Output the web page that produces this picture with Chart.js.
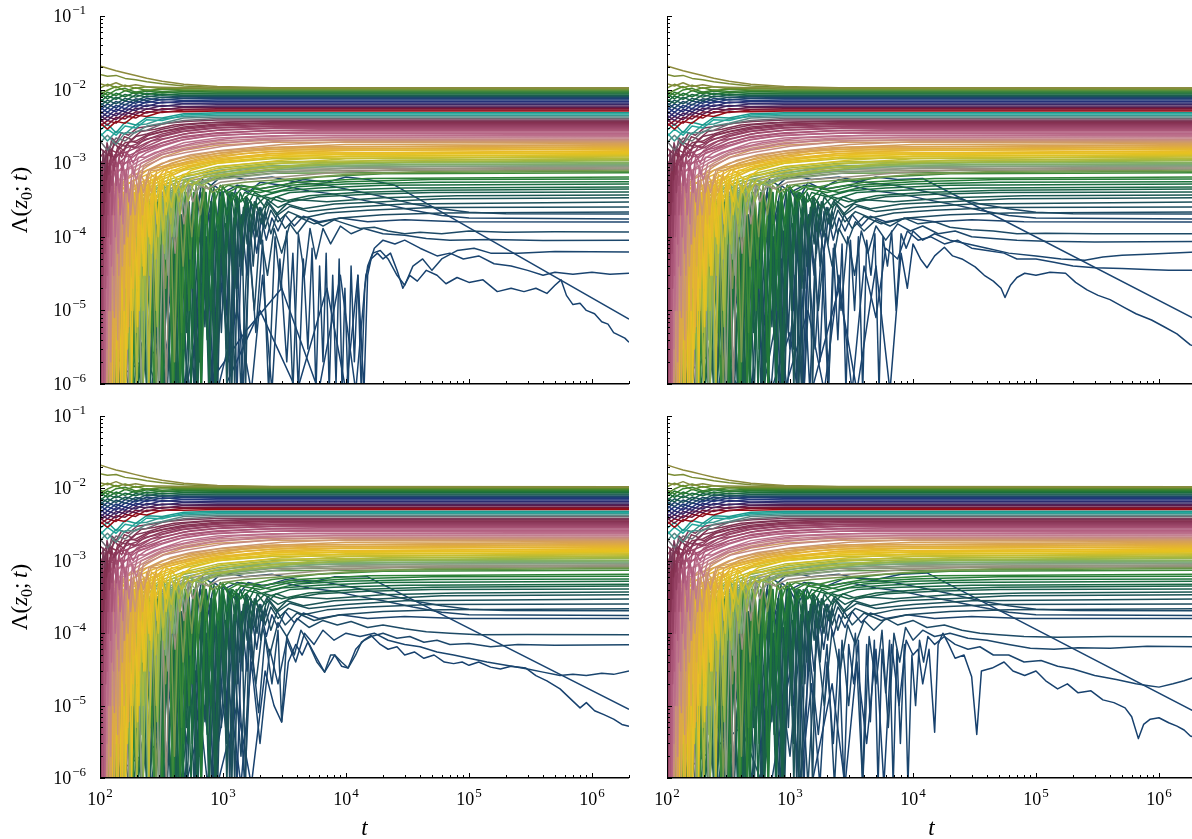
<!DOCTYPE html>
<html>
<head>
<meta charset="utf-8">
<title>Λ(z0; t)</title>
<script src="https://cdn.jsdelivr.net/npm/chart.js@4.4.1/dist/chart.umd.min.js"></script>
<style>
  html, body { margin: 0; padding: 0; background: #fff; width: 1192px; height: 839px; overflow: hidden; }
  .panel { position: absolute; }
  canvas { display: block; }
</style>
</head>
<body>
<div class="panel" style="left:0px;top:0px"><canvas id="c0" width="640" height="400"></canvas></div>
<div class="panel" style="left:640px;top:0px"><canvas id="c1" width="560" height="400"></canvas></div>
<div class="panel" style="left:0px;top:400px"><canvas id="c2" width="640" height="439"></canvas></div>
<div class="panel" style="left:640px;top:400px"><canvas id="c3" width="560" height="439"></canvas></div>
<script>
// ---------- axis decades ----------
const yDecades = [-6, -5, -4, -3, -2, -1];
const xDecades = [2, 3, 4, 5, 6];
const tMin = 100, tMax = 2000000;

// ---------- smooth band trajectories, sampled on a common time grid ----------
const tBand = [100, 115, 135, 160, 195, 240, 320, 480, 900, 2500, 2000000];

const oliveLines = [
  [21e-3, 19.5e-3, 18e-3, 16.8e-3, 15.5e-3, 14.3e-3, 13.0e-3, 11.8e-3, 11.0e-3, 10.6e-3, 10.5e-3],
  [16e-3, 15.2e-3, 15.6e-3, 14.2e-3, 13.6e-3, 12.8e-3, 12.0e-3, 11.2e-3, 10.7e-3, 10.5e-3, 10.4e-3]
];

const upperBand = [
  [12.0e-3, 11.2e-3, 12.4e-3, 11.0e-3, 11.6e-3, 10.9e-3, 10.8e-3, 10.6e-3, 10.5e-3, 10.5e-3, 10.5e-3],
  [10.5e-3, 11.8e-3, 10.6e-3, 11.5e-3, 10.4e-3, 10.9e-3, 10.3e-3, 10.4e-3, 10.2e-3, 10.2e-3, 10.2e-3],
  [8.6e-3, 9.8e-3, 11.0e-3, 9.6e-3, 10.6e-3, 9.7e-3, 10.2e-3, 9.9e-3, 9.9e-3, 9.9e-3, 9.9e-3],
  [9.5e-3, 8.4e-3, 9.9e-3, 10.4e-3, 9.2e-3, 9.9e-3, 9.4e-3, 9.7e-3, 9.6e-3, 9.6e-3, 9.6e-3],
  [7.8e-3, 9.2e-3, 8.3e-3, 9.7e-3, 8.8e-3, 9.6e-3, 9.0e-3, 9.4e-3, 9.3e-3, 9.3e-3, 9.3e-3],
  [8.8e-3, 7.5e-3, 8.9e-3, 8.0e-3, 9.3e-3, 8.6e-3, 9.2e-3, 8.9e-3, 9.0e-3, 9.0e-3, 9.0e-3],
  [6.8e-3, 8.2e-3, 7.4e-3, 8.6e-3, 7.9e-3, 8.9e-3, 8.4e-3, 8.8e-3, 8.7e-3, 8.7e-3, 8.7e-3],
  [7.4e-3, 6.5e-3, 7.9e-3, 7.0e-3, 8.5e-3, 7.9e-3, 8.6e-3, 8.3e-3, 8.4e-3, 8.4e-3, 8.4e-3],
  [6.0e-3, 7.2e-3, 6.4e-3, 7.6e-3, 7.0e-3, 8.2e-3, 7.8e-3, 8.2e-3, 8.1e-3, 8.1e-3, 8.1e-3],
  [6.6e-3, 5.6e-3, 6.9e-3, 6.2e-3, 7.5e-3, 7.1e-3, 7.9e-3, 7.7e-3, 7.8e-3, 7.8e-3, 7.8e-3],
  [5.2e-3, 6.4e-3, 5.6e-3, 7.0e-3, 6.5e-3, 7.6e-3, 7.2e-3, 7.6e-3, 7.5e-3, 7.5e-3, 7.5e-3],
  [5.8e-3, 4.9e-3, 6.1e-3, 5.5e-3, 6.9e-3, 6.6e-3, 7.4e-3, 7.1e-3, 7.2e-3, 7.2e-3, 7.2e-3],
  [4.6e-3, 5.6e-3, 5.0e-3, 6.3e-3, 5.8e-3, 6.9e-3, 6.6e-3, 7.0e-3, 6.9e-3, 6.9e-3, 6.9e-3],
  [5.1e-3, 4.3e-3, 5.4e-3, 5.0e-3, 6.2e-3, 5.9e-3, 6.8e-3, 6.5e-3, 6.6e-3, 6.6e-3, 6.6e-3],
  [4.0e-3, 4.9e-3, 4.4e-3, 5.5e-3, 5.2e-3, 6.2e-3, 5.9e-3, 6.4e-3, 6.3e-3, 6.3e-3, 6.3e-3],
  [4.5e-3, 3.8e-3, 4.8e-3, 4.5e-3, 5.6e-3, 5.4e-3, 6.1e-3, 5.9e-3, 6.0e-3, 6.0e-3, 6.0e-3],
  [3.6e-3, 4.3e-3, 3.9e-3, 4.9e-3, 4.6e-3, 5.5e-3, 5.3e-3, 5.8e-3, 5.75e-3, 5.75e-3, 5.75e-3],
  [3.9e-3, 3.3e-3, 4.2e-3, 4.0e-3, 5.0e-3, 4.8e-3, 5.5e-3, 5.4e-3, 5.5e-3, 5.5e-3, 5.5e-3],
  [3.2e-3, 3.8e-3, 3.5e-3, 4.4e-3, 4.1e-3, 5.0e-3, 4.9e-3, 5.3e-3, 5.3e-3, 5.3e-3, 5.3e-3],
  [3.5e-3, 2.9e-3, 3.7e-3, 3.5e-3, 4.5e-3, 4.3e-3, 5.0e-3, 5.0e-3, 5.1e-3, 5.1e-3, 5.1e-3]
];

const tealBand = [
  [2.8e-3, 3.4e-3, 2.6e-3, 3.6e-3, 3.3e-3, 4.2e-3, 4.1e-3, 4.7e-3, 4.85e-3, 4.85e-3, 4.85e-3],
  [2.3e-3, 2.9e-3, 2.4e-3, 3.2e-3, 3.0e-3, 3.9e-3, 3.8e-3, 4.5e-3, 4.65e-3, 4.65e-3, 4.65e-3],
  [2.6e-3, 2.0e-3, 2.7e-3, 2.5e-3, 3.3e-3, 3.4e-3, 4.0e-3, 4.3e-3, 4.45e-3, 4.45e-3, 4.45e-3],
  [1.9e-3, 2.4e-3, 1.8e-3, 2.6e-3, 2.6e-3, 3.2e-3, 3.5e-3, 4.1e-3, 4.25e-3, 4.25e-3, 4.25e-3],
  [2.0e-3, 1.5e-3, 2.2e-3, 2.0e-3, 2.7e-3, 2.8e-3, 3.4e-3, 3.8e-3, 4.05e-3, 4.05e-3, 4.05e-3]
];

const pinkBand = [
  [1.6e-3, 1.3e-3, 1.9e-3, 1.7e-3, 2.3e-3, 2.5e-3, 2.9e-3, 3.3e-3, 3.6e-3, 3.75e-3, 3.75e-3],
  [1.2e-3, 1.6e-3, 1.4e-3, 1.9e-3, 2.0e-3, 2.4e-3, 2.7e-3, 3.1e-3, 3.4e-3, 3.55e-3, 3.55e-3],
  [9e-4, 1.3e-3, 1.2e-3, 1.6e-3, 1.8e-3, 2.1e-3, 2.5e-3, 2.9e-3, 3.2e-3, 3.35e-3, 3.35e-3],
  [1.1e-3, 8e-4, 1.3e-3, 1.4e-3, 1.6e-3, 1.9e-3, 2.3e-3, 2.7e-3, 3.0e-3, 3.15e-3, 3.15e-3],
  [7e-4, 1.0e-3, 9e-4, 1.2e-3, 1.4e-3, 1.7e-3, 2.1e-3, 2.5e-3, 2.8e-3, 2.95e-3, 2.95e-3],
  [8e-4, 6e-4, 1.0e-3, 1.0e-3, 1.3e-3, 1.5e-3, 1.9e-3, 2.3e-3, 2.6e-3, 2.75e-3, 2.75e-3],
  [5e-4, 8e-4, 7e-4, 1.0e-3, 1.1e-3, 1.4e-3, 1.7e-3, 2.1e-3, 2.4e-3, 2.55e-3, 2.55e-3],
  [6e-4, 4e-4, 8e-4, 8e-4, 1.0e-3, 1.2e-3, 1.5e-3, 1.9e-3, 2.2e-3, 2.36e-3, 2.36e-3],
  [3e-4, 6e-4, 5e-4, 8e-4, 9e-4, 1.1e-3, 1.4e-3, 1.7e-3, 2.0e-3, 2.2e-3, 2.2e-3],
  [4e-4, 2e-4, 6e-4, 6e-4, 8e-4, 1.0e-3, 1.3e-3, 1.6e-3, 1.9e-3, 2.05e-3, 2.05e-3],
  [2e-4, 4e-4, 3e-4, 6e-4, 7e-4, 9e-4, 1.2e-3, 1.5e-3, 1.75e-3, 1.92e-3, 1.92e-3]
];

const yellowBand = [
  [3e-4, 5e-4, 4e-4, 6e-4, 7e-4, 8e-4, 1.0e-3, 1.2e-3, 1.45e-3, 1.65e-3, 1.8e-3],
  [4e-4, 3e-4, 5e-4, 5e-4, 6e-4, 8e-4, 9e-4, 1.1e-3, 1.35e-3, 1.55e-3, 1.69e-3],
  [2e-4, 4e-4, 3e-4, 5e-4, 6e-4, 7e-4, 8.5e-4, 1.0e-3, 1.25e-3, 1.45e-3, 1.58e-3],
  [3e-4, 2e-4, 4e-4, 4e-4, 5e-4, 6e-4, 8e-4, 9.5e-4, 1.15e-3, 1.35e-3, 1.48e-3],
  [1.5e-4, 3e-4, 2.5e-4, 4e-4, 4.5e-4, 5.5e-4, 7e-4, 9e-4, 1.1e-3, 1.28e-3, 1.40e-3],
  [2e-4, 1.5e-4, 3e-4, 3e-4, 4e-4, 5e-4, 6.5e-4, 8.5e-4, 1.05e-3, 1.2e-3, 1.32e-3],
  [1e-4, 2e-4, 2e-4, 3e-4, 3.5e-4, 4.5e-4, 6e-4, 8e-4, 1.0e-3, 1.15e-3, 1.25e-3],
  [1.5e-4, 1e-4, 2.5e-4, 2.5e-4, 3e-4, 4e-4, 5.5e-4, 7e-4, 9e-4, 1.05e-3, 1.17e-3],
  [8e-5, 1.5e-4, 1.5e-4, 2e-4, 3e-4, 3.5e-4, 5e-4, 6.5e-4, 8.5e-4, 1.0e-3, 1.11e-3]
];

const sageBand = [
  [1e-4, 2e-4, 1.5e-4, 2.5e-4, 3e-4, 4e-4, 5e-4, 6.5e-4, 8e-4, 9.3e-4, 9.9e-4],
  [1.5e-4, 1e-4, 2e-4, 2e-4, 2.5e-4, 3.5e-4, 4.5e-4, 6e-4, 7.5e-4, 8.8e-4, 9.35e-4],
  [8e-5, 1.5e-4, 1.2e-4, 2e-4, 2.2e-4, 3e-4, 4e-4, 5.5e-4, 7e-4, 8.3e-4, 8.85e-4],
  [1e-4, 7e-5, 1.5e-4, 1.5e-4, 2e-4, 2.8e-4, 3.8e-4, 5e-4, 6.5e-4, 7.8e-4, 8.35e-4],
  [6e-5, 1e-4, 9e-5, 1.3e-4, 1.8e-4, 2.5e-4, 3.5e-4, 4.8e-4, 6.2e-4, 7.3e-4, 7.8e-4]
];

// ---------- fluctuating trajectories, as [t, Λ] pairs ----------
const mauveLines = [
  [[100,1.2e-3],[103,4e-4],[106,1.5e-3],[110,8e-4],[114,1.9e-3],[119,1.4e-3],[125,2.2e-3],[135,1.9e-3],[150,2.6e-3],[170,2.4e-3],[200,3.0e-3],[260,3.2e-3],[350,3.5e-3],[500,3.7e-3],[900,3.85e-3],[2e6,3.85e-3]],
  [[100,6e-4],[102,1e-4],[104,1e-3],[107,2e-4],[110,1.3e-3],[113,6e-4],[117,1.6e-3],[122,1.2e-3],[130,1.9e-3],[142,1.6e-3],[158,2.3e-3],[180,2.1e-3],[215,2.7e-3],[280,2.9e-3],[400,3.3e-3],[700,3.55e-3],[1500,3.65e-3],[2e6,3.65e-3]],
  [[100,3e-4],[101.5,2e-5],[103,8e-4],[105.5,5e-5],[108,1.1e-3],[111,3e-4],[114,1.3e-3],[118,7e-4],[123,1.5e-3],[130,1.1e-3],[140,1.7e-3],[155,1.5e-3],[175,2.0e-3],[200,1.9e-3],[250,2.4e-3],[330,2.7e-3],[500,3.0e-3],[900,3.3e-3],[2000,3.45e-3],[2e6,3.45e-3]],
  [[100,1.5e-4],[102,8e-7],[104,6e-4],[106,3e-5],[109,9e-4],[112,1e-4],[115,1.1e-3],[119,4e-4],[124,1.3e-3],[130,8e-4],[138,1.5e-3],[150,1.2e-3],[165,1.8e-3],[190,1.6e-3],[230,2.1e-3],[300,2.3e-3],[450,2.7e-3],[800,3.0e-3],[2000,3.2e-3],[5000,3.25e-3],[2e6,3.25e-3]],
  [[100,8e-5],[101,8e-7],[103,4e-4],[105,1e-5],[107,7e-4],[110,6e-5],[113,9e-4],[116,2e-4],[120,1.1e-3],[125,5e-4],[131,1.3e-3],[138,9e-4],[147,1.5e-3],[160,1.2e-3],[180,1.7e-3],[210,1.6e-3],[260,2.0e-3],[350,2.2e-3],[550,2.6e-3],[1000,2.85e-3],[3000,3.05e-3],[2e6,3.05e-3]],
  [[100,5e-4],[102,6e-6],[104,3e-4],[106,8e-7],[108,5e-4],[111,2e-5],[114,8e-4],[117,1e-4],[121,9e-4],[125,2e-4],[130,1.1e-3],[136,5e-4],[143,1.2e-3],[152,8e-4],[163,1.4e-3],[178,1.2e-3],[200,1.5e-3],[240,1.6e-3],[320,1.9e-3],[450,2.2e-3],[800,2.5e-3],[2000,2.75e-3],[6000,2.85e-3],[2e6,2.85e-3]],
  [[100,3e-5],[102,5e-4],[104,2e-6],[106,4e-4],[109,8e-7],[112,6e-4],[115,3e-5],[118,7e-4],[122,8e-5],[126,9e-4],[131,2e-4],[137,1e-3],[144,4e-4],[152,1.1e-3],[161,6e-4],[172,1.3e-3],[186,1e-3],[205,1.4e-3],[240,1.5e-3],[300,1.7e-3],[420,2.0e-3],[700,2.3e-3],[1500,2.5e-3],[5000,2.65e-3],[2e6,2.65e-3]],
  [[100,2e-4],[101.5,8e-7],[103,2e-4],[105,4e-6],[107.5,3e-4],[110,8e-7],[113,5e-4],[116,1e-5],[120,6e-4],[124,4e-5],[128,7e-4],[133,1e-4],[139,8e-4],[146,2e-4],[154,9e-4],[163,4e-4],[174,1.1e-3],[188,7e-4],[205,1.2e-3],[230,1.2e-3],[280,1.4e-3],[380,1.6e-3],[600,1.9e-3],[1200,2.2e-3],[4000,2.4e-3],[2e6,2.45e-3]],
  [[100,1e-5],[102,3e-4],[104,8e-7],[106,2e-4],[108.5,8e-7],[111,3e-4],[114,3e-6],[117,4e-4],[121,1e-5],[125,5e-4],[129,3e-5],[134,6e-4],[140,6e-5],[147,7e-4],[154,1.5e-4],[162,8e-4],[172,3e-4],[184,9e-4],[198,6e-4],[215,1.0e-3],[250,1.1e-3],[310,1.3e-3],[450,1.5e-3],[800,1.8e-3],[2000,2.1e-3],[8000,2.25e-3],[2e6,2.28e-3]],
  [[100,4e-4],[103,2e-5],[105,3e-4],[108,1e-6],[111,2e-4],[114,8e-7],[118,3e-4],[122,2e-6],[126,4e-4],[131,8e-6],[136,5e-4],[142,3e-5],[149,6e-4],[157,8e-5],[166,7e-4],[177,2e-4],[190,8e-4],[205,4e-4],[225,9e-4],[260,1.0e-3],[330,1.2e-3],[500,1.4e-3],[1000,1.7e-3],[3000,2.0e-3],[1e4,2.1e-3],[2e6,2.12e-3]],
  [[100,2e-5],[103,3e-4],[106,8e-7],[109,2e-4],[112,5e-6],[115,3e-4],[119,8e-7],[123,3e-4],[128,1e-5],[133,4e-4],[139,4e-6],[145,5e-4],[152,4e-5],[160,5e-4],[169,1e-4],[180,6e-4],[193,2e-4],[208,7e-4],[226,4e-4],[250,8e-4],[290,9e-4],[370,1.1e-3],[550,1.3e-3],[1000,1.5e-3],[3000,1.8e-3],[1e4,1.95e-3],[2e6,1.98e-3]]
];

const yellowLines = [
  [[100,6e-4],[102,8e-7],[105,2e-4],[108,3e-6],[111,3e-4],[115,2e-5],[119,4e-4],[123,8e-7],[128,4e-4],[133,3e-5],[139,5e-4],[145,1e-5],[152,5e-4],[160,8e-5],[168,6e-4],[177,2e-4],[188,6e-4],[200,3e-4],[215,7e-4],[235,5e-4],[260,8e-4],[300,8e-4],[380,1.0e-3],[550,1.2e-3],[1000,1.4e-3],[3000,1.65e-3],[1e4,1.8e-3],[2e6,1.85e-3]],
  [[100,3e-5],[104,1e-4],[107,8e-7],[110,2e-4],[113,2e-6],[117,3e-4],[121,6e-6],[126,3e-4],[131,8e-7],[137,4e-4],[143,3e-6],[150,4e-4],[157,1e-5],[165,5e-4],[174,4e-5],[184,5e-4],[195,1e-4],[208,6e-4],[222,2e-4],[240,7e-4],[262,4e-4],[290,8e-4],[340,9e-4],[450,1.0e-3],[700,1.2e-3],[1500,1.45e-3],[5000,1.65e-3],[2e6,1.74e-3]],
  [[100,8e-5],[103,6e-4],[106,2e-5],[109,3e-4],[112,8e-7],[116,2e-4],[120,1e-5],[124,3e-4],[129,4e-6],[135,4e-4],[141,8e-7],[148,3e-4],[155,2e-5],[163,4e-4],[171,6e-6],[180,5e-4],[190,5e-5],[201,5e-4],[213,1.5e-4],[227,6e-4],[243,3e-4],[262,7e-4],[290,6e-4],[330,8e-4],[420,9e-4],[650,1.1e-3],[1500,1.35e-3],[5000,1.55e-3],[2e6,1.63e-3]],
  [[100,2e-4],[105,4e-4],[108,8e-7],[112,1e-4],[116,3e-5],[121,3e-4],[126,8e-7],[132,3e-4],[138,1e-5],[145,3e-4],[152,8e-7],[160,4e-4],[168,5e-6],[177,4e-4],[186,2e-5],[196,5e-4],[207,3e-5],[219,5e-4],[232,1e-4],[247,6e-4],[265,2e-4],[285,7e-4],[310,4e-4],[345,8e-4],[400,7e-4],[520,9e-4],[900,1.1e-3],[2500,1.35e-3],[1e4,1.5e-3],[2e6,1.53e-3]],
  [[100,1e-5],[104,2e-4],[107,4e-6],[111,2e-4],[115,8e-7],[119,2e-4],[124,1e-5],[129,3e-4],[134,3e-6],[140,3e-4],[147,5e-5],[154,4e-4],[162,8e-7],[170,4e-4],[179,1e-5],[189,4e-4],[199,2e-5],[210,5e-4],[222,6e-5],[235,5e-4],[250,1e-4],[267,6e-4],[287,3e-4],[310,7e-4],[340,5e-4],[380,8e-4],[460,8e-4],[650,1.0e-3],[1500,1.2e-3],[5000,1.38e-3],[2e6,1.44e-3]],
  [[100,5e-4],[103,1e-5],[107,3e-4],[111,6e-6],[116,2e-4],[121,8e-7],[127,3e-4],[133,4e-5],[140,4e-4],[147,8e-7],[155,3e-4],[163,2e-5],[172,4e-4],[181,8e-7],[191,4e-4],[202,6e-6],[214,5e-4],[227,3e-5],[241,5e-4],[256,8e-5],[273,6e-4],[292,1.5e-4],[315,6e-4],[345,3e-4],[380,7e-4],[430,6e-4],[550,8e-4],[900,1.0e-3],[2500,1.2e-3],[1e4,1.33e-3],[2e6,1.36e-3]],
  [[100,1e-4],[104,8e-7],[108,2e-4],[113,2e-5],[118,3e-4],[123,3e-6],[129,3e-4],[136,8e-7],[143,3e-4],[151,1e-5],[159,4e-4],[167,3e-6],[176,3e-4],[186,2e-5],[197,4e-4],[208,1e-5],[220,4e-4],[233,3e-5],[247,5e-4],[262,6e-5],[279,5e-4],[298,1e-4],[320,6e-4],[345,2e-4],[375,6e-4],[410,4e-4],[470,7e-4],[600,7e-4],[1000,9e-4],[3000,1.1e-3],[1e4,1.25e-3],[2e6,1.28e-3]],
  [[100,3e-4],[105,5e-6],[110,2e-4],[115,8e-7],[121,2e-4],[127,1e-5],[134,3e-4],[141,4e-6],[149,3e-4],[157,8e-7],[166,3e-4],[175,2e-5],[185,4e-4],[196,5e-6],[208,4e-4],[221,4e-5],[235,4e-4],[250,8e-7],[266,5e-4],[284,5e-5],[304,5e-4],[326,1.2e-4],[350,5e-4],[380,2.5e-4],[415,6e-4],[460,4e-4],[540,6e-4],[700,7e-4],[1200,8.5e-4],[3000,1.0e-3],[1e4,1.15e-3],[2e6,1.21e-3]],
  [[100,2e-6],[106,1e-4],[112,8e-7],[118,2e-4],[125,1e-5],[132,2e-4],[140,8e-7],[148,3e-4],[157,3e-6],[166,3e-4],[176,4e-5],[187,3e-4],[199,8e-7],[211,4e-4],[224,1e-5],[238,4e-4],[253,3e-5],[269,4e-4],[287,1e-5],[306,5e-4],[327,8e-5],[350,5e-4],[376,1.5e-4],[405,5e-4],[440,3e-4],[480,6e-4],[560,5e-4],[700,6.5e-4],[1000,7e-4],[2000,8.5e-4],[6000,1.0e-3],[2e4,1.1e-3],[2e6,1.14e-3]],
  [[100,1e-4],[107,8e-7],[114,1.5e-4],[121,3e-6],[129,2e-4],[137,8e-7],[146,2e-4],[155,2e-5],[165,3e-4],[175,1e-6],[186,3e-4],[198,2e-5],[211,3e-4],[225,8e-7],[240,4e-4],[256,3e-5],[273,4e-4],[292,6e-6],[312,4e-4],[334,6e-5],[358,5e-4],[384,1e-4],[413,5e-4],[445,2e-4],[480,5e-4],[520,3e-4],[580,5.5e-4],[680,5e-4],[900,6.5e-4],[1500,7.5e-4],[4000,9e-4],[1.5e4,1.02e-3],[2e6,1.08e-3]]
];

const greenLines = [
  [[100,3e-4],[110,8e-7],[120,1e-4],[131,3e-6],[143,2e-4],[156,8e-7],[170,3e-4],[185,1e-5],[201,3e-4],[219,4e-6],[238,4e-4],[259,3e-5],[282,4e-4],[307,8e-5],[334,5e-4],[364,2e-4],[396,5e-4],[440,4e-4],[500,6e-4],[600,5.5e-4],[750,7e-4],[1000,7.5e-4],[1500,8.5e-4],[3000,9e-4],[8000,9.8e-4],[3e4,1.01e-3],[2e6,1.02e-3]],
  [[100,1e-4],[108,2e-6],[117,1.5e-4],[127,8e-7],[138,2e-4],[150,5e-6],[163,2e-4],[177,8e-7],[192,3e-4],[208,2e-5],[226,3e-4],[245,8e-7],[266,4e-4],[289,1e-5],[314,4e-4],[341,5e-5],[370,5e-4],[402,1e-4],[436,5e-4],[475,3e-4],[520,6e-4],[620,5e-4],[800,6.5e-4],[1200,7e-4],[2500,8e-4],[7000,9e-4],[3e4,9.5e-4],[2e6,9.6e-4]],
  [[100,8e-7],[112,1e-4],[124,3e-6],[137,2e-4],[151,8e-7],[166,2e-4],[182,3e-5],[199,3e-4],[217,8e-7],[236,3e-4],[257,1e-5],[279,4e-4],[303,8e-7],[329,4e-4],[357,3e-5],[387,4e-4],[420,1e-4],[456,5e-4],[495,2e-4],[540,5e-4],[600,4e-4],[700,5.5e-4],[900,6e-4],[1400,6.5e-4],[3000,7.5e-4],[1e4,8.6e-4],[5e4,9e-4],[2e6,9.1e-4]],
  [[100,5e-5],[113,8e-7],[126,1e-4],[140,8e-6],[155,2e-4],[171,8e-7],[188,2e-4],[206,2e-5],[225,3e-4],[246,2e-6],[268,3e-4],[292,4e-5],[318,4e-4],[346,8e-7],[376,4e-4],[408,6e-5],[443,4e-4],[481,1.5e-4],[522,5e-4],[570,3e-4],[640,5e-4],[750,4.5e-4],[950,5.5e-4],[1500,6e-4],[3000,6.5e-4],[8000,7.5e-4],[3e4,8.3e-4],[2e6,8.6e-4]],
  [[100,8e-7],[115,5e-5],[130,8e-7],[146,1.5e-4],[163,4e-6],[181,2e-4],[200,8e-7],[220,2e-4],[241,1e-5],[263,3e-4],[287,8e-7],[313,3e-4],[341,2e-5],[371,4e-4],[403,2e-6],[437,4e-4],[474,4e-5],[514,4e-4],[557,1e-4],[604,5e-4],[655,2e-4],[720,5e-4],[820,4e-4],[1000,5e-4],[1500,5.5e-4],[3000,6e-4],[1e4,7e-4],[5e4,7.8e-4],[2e6,8.1e-4]],
  [[100,2e-4],[120,8e-7],[135,1e-4],[151,5e-6],[168,2e-4],[186,8e-7],[206,2e-4],[227,1e-5],[250,3e-4],[274,8e-7],[300,3e-4],[328,3e-5],[358,3e-4],[390,8e-7],[424,4e-4],[460,5e-6],[499,4e-4],[540,5e-5],[585,4e-4],[633,1e-4],[685,5e-4],[740,2e-4],[800,5e-4],[900,4e-4],[1100,5e-4],[1500,4.5e-4],[2500,5.5e-4],[6000,6.5e-4],[2e4,7.2e-4],[2e6,7.4e-4]],
  [[100,2e-4],[111,8e-7],[125,1e-4],[140,8e-7],[157,2e-4],[175,2e-6],[195,2e-4],[216,8e-7],[239,3e-4],[263,1e-5],[289,3e-4],[317,8e-7],[347,3e-4],[379,2e-5],[413,4e-4],[449,8e-7],[488,4e-4],[530,1e-5],[575,4e-4],[623,6e-5],[675,4e-4],[730,1.5e-4],[790,5e-4],[860,3e-4],[950,5e-4],[1100,4e-4],[1400,5e-4],[2000,4.5e-4],[4000,5.5e-4],[1.5e4,6.2e-4],[2e6,6.5e-4]],
  [[100,5e-5],[114,8e-7],[129,1e-4],[145,3e-6],[163,2e-4],[182,8e-7],[203,2e-4],[225,4e-6],[249,3e-4],[275,8e-7],[303,3e-4],[333,1e-5],[365,3e-4],[399,8e-7],[436,4e-4],[475,3e-6],[517,4e-4],[562,2e-5],[610,4e-4],[662,8e-7],[718,4e-4],[778,5e-5],[843,4e-4],[913,1.5e-4],[990,5e-4],[1150,3e-4],[1400,4.5e-4],[2000,4e-4],[3500,5e-4],[1e4,5.6e-4],[5e4,6e-4],[2e6,6.1e-4]],
  [[100,1e-5],[117,1e-4],[134,8e-7],[152,1e-4],[172,2e-6],[193,2e-4],[216,8e-7],[241,2e-4],[268,3e-5],[297,3e-4],[328,8e-7],[361,3e-4],[396,4e-6],[434,3e-4],[474,8e-7],[517,4e-4],[563,2e-5],[612,4e-4],[664,8e-7],[720,4e-4],[780,3e-5],[845,4e-4],[915,1e-4],[990,4e-4],[1080,2e-4],[1200,4e-4],[1400,3e-4],[1800,4.5e-4],[2500,4e-4],[4000,4.8e-4],[1e4,5.2e-4],[5e4,5.5e-4],[2e6,5.6e-4]],
  [[100,1e-4],[120,8e-7],[140,1e-4],[160,1e-6],[182,1.5e-4],[205,8e-7],[230,2e-4],[257,5e-6],[286,2e-4],[318,8e-7],[352,3e-4],[388,1e-5],[427,3e-4],[469,8e-7],[514,3e-4],[562,3e-6],[614,4e-4],[669,8e-7],[728,4e-4],[791,1e-5],[858,4e-4],[930,5e-5],[1007,4e-4],[1090,1.2e-4],[1180,4e-4],[1300,2.5e-4],[1500,4e-4],[2000,3.5e-4],[3000,4.2e-4],[6000,4.6e-4],[2e4,5e-4],[2e6,5.2e-4]],
  [[100,8e-7],[122,5e-5],[144,8e-7],[167,1e-4],[191,3e-6],[217,1.5e-4],[245,8e-7],[275,2e-4],[307,2e-6],[341,2e-4],[377,8e-7],[416,3e-4],[458,2e-5],[502,3e-4],[550,8e-7],[601,3e-4],[655,4e-6],[713,4e-4],[775,8e-7],[842,3e-4],[913,2e-5],[990,4e-4],[1070,6e-5],[1160,4e-4],[1260,1.5e-4],[1380,4e-4],[1550,2.5e-4],[1800,4e-4],[2300,3.2e-4],[3500,4e-4],[8000,4.3e-4],[3e4,4.6e-4],[2e6,4.75e-4]],
  [[100,5e-5],[125,8e-7],[150,8e-5],[175,8e-7],[200,1.2e-4],[227,2e-6],[256,1.5e-4],[287,8e-7],[320,2e-4],[355,1e-5],[392,2e-4],[432,8e-7],[475,3e-4],[520,3e-6],[568,3e-4],[620,8e-7],[675,3e-4],[733,1e-5],[795,3e-4],[862,8e-7],[933,4e-4],[1010,3e-5],[1095,4e-4],[1185,8e-5],[1280,4e-4],[1400,1.5e-4],[1550,3.5e-4],[1800,2.5e-4],[2200,3.5e-4],[3000,3e-4],[5000,3.6e-4],[1.2e4,4e-4],[5e4,4.3e-4],[2e6,4.47e-4]],
  [[100,1e-5],[130,8e-7],[160,6e-5],[190,8e-7],[222,1e-4],[256,8e-7],[292,1.5e-4],[331,3e-6],[372,2e-4],[416,8e-7],[463,2e-4],[512,1e-5],[565,3e-4],[621,8e-7],[680,3e-4],[743,4e-6],[810,3e-4],[880,8e-7],[955,3e-4],[1035,2e-5],[1120,4e-4],[1210,5e-5],[1310,3.5e-4],[1420,1e-4],[1550,3.5e-4],[1700,1.8e-4],[1900,3.5e-4],[2200,2.5e-4],[2700,3.5e-4],[3500,3e-4],[6000,3.5e-4],[1.5e4,3.8e-4],[5e4,4e-4],[2e6,4.07e-4]],
  [[100,8e-7],[135,4e-5],[170,8e-7],[205,8e-5],[240,8e-7],[278,1.2e-4],[318,2e-6],[360,1.5e-4],[405,8e-7],[453,2e-4],[503,5e-6],[557,2e-4],[614,8e-7],[674,3e-4],[738,2e-5],[805,3e-4],[876,8e-7],[951,3e-4],[1030,1e-5],[1115,3.5e-4],[1205,3e-5],[1300,3.5e-4],[1405,8e-5],[1520,3.5e-4],[1650,1.2e-4],[1800,3e-4],[2000,2e-4],[2300,3.2e-4],[2800,2.5e-4],[3800,3.2e-4],[7000,3e-4],[2e4,3.4e-4],[8e4,3.6e-4],[2e6,3.7e-4]],
  [[100,3e-5],[140,8e-7],[180,5e-5],[220,8e-7],[262,1e-4],[306,8e-7],[353,1.2e-4],[403,3e-6],[456,1.5e-4],[512,8e-7],[571,2e-4],[633,1e-5],[698,2.5e-4],[766,8e-7],[838,2.5e-4],[913,3e-6],[992,3e-4],[1075,8e-7],[1160,3e-4],[1250,2e-5],[1350,3e-4],[1460,5e-5],[1580,3e-4],[1710,1e-4],[1850,3e-4],[2050,1.5e-4],[2300,3e-4],[2700,2e-4],[3300,2.8e-4],[4500,2.4e-4],[8000,2.8e-4],[2e4,3e-4],[6e4,3.3e-4],[2e6,3.4e-4]],
  [[100,1e-5],[150,8e-7],[200,3e-5],[250,8e-7],[300,6e-5],[352,8e-7],[406,1e-4],[462,2e-6],[520,1.2e-4],[582,8e-7],[646,1.5e-4],[713,6e-6],[783,2e-4],[856,8e-7],[932,2e-4],[1011,2e-5],[1093,2.5e-4],[1180,8e-7],[1270,2.5e-4],[1365,4e-5],[1465,2.5e-4],[1570,8e-5],[1690,3e-4],[1820,1.2e-4],[1970,2.5e-4],[2150,1.5e-4],[2400,2.8e-4],[2800,2e-4],[3500,2.6e-4],[5000,2.2e-4],[1e4,2.5e-4],[3e4,2.8e-4],[2e6,2.96e-4]],
  [[100,8e-7],[160,2e-5],[220,8e-7],[280,5e-5],[342,8e-7],[405,8e-5],[470,2e-6],[537,1e-4],[606,8e-7],[677,1.2e-4],[750,1e-5],[826,1.5e-4],[905,8e-7],[986,2e-4],[1070,3e-6],[1156,2e-4],[1245,8e-7],[1337,2.2e-4],[1433,3e-5],[1535,2.5e-4],[1640,6e-5],[1760,2.5e-4],[1890,1e-4],[2030,2.5e-4],[2200,1.3e-4],[2450,2.3e-4],[2800,1.6e-4],[3400,2.2e-4],[4500,1.8e-4],[7000,2.1e-4],[1.5e4,2.3e-4],[5e4,2.5e-4],[2e6,2.54e-4]],
  [[100,2e-6],[170,8e-7],[250,2e-5],[330,8e-7],[410,5e-5],[490,8e-7],[570,8e-5],[650,2e-6],[730,1e-4],[810,8e-7],[890,1.2e-4],[970,5e-6],[1050,1.5e-4],[1135,8e-7],[1225,1.8e-4],[1320,2e-5],[1420,2e-4],[1525,8e-7],[1640,2e-4],[1760,4e-5],[1890,2.2e-4],[2030,8e-5],[2200,2.2e-4],[2450,1.1e-4],[2750,2e-4],[3200,1.3e-4],[4000,1.9e-4],[5500,1.5e-4],[9000,1.8e-4],[2e4,2e-4],[6e4,2.1e-4],[2e6,2.17e-4]],
  [[100,2e-4],[120,8e-7],[140,2e-4],[165,3e-6],[190,3e-4],[220,8e-7],[255,3e-4],[290,2e-5],[330,4e-4],[375,8e-7],[420,4e-4],[470,5e-5],[530,5e-4],[600,2e-4],[680,6e-4],[800,5e-4],[1000,7e-4],[1500,6e-4],[2500,6.5e-4],[4000,5.5e-4],[7000,5e-4],[1.2e4,4.2e-4],[2e4,3.5e-4],[3.5e4,2.8e-4],[6e4,2.4e-4],[1e5,2.15e-4],[2e5,2.06e-4],[2e6,2.04e-4]],
  [[100,1e-4],[125,8e-7],[150,1.5e-4],[180,2e-6],[212,2e-4],[250,8e-7],[290,3e-4],[335,1e-5],[385,3e-4],[440,8e-7],[500,4e-4],[570,5e-5],[650,4e-4],[740,1.5e-4],[850,5e-4],[1000,4e-4],[1300,5e-4],[2000,4.5e-4],[3000,5e-4],[5000,4.2e-4],[8000,3.8e-4],[1.3e4,3.2e-4],[2e4,2.8e-4],[3.5e4,2.3e-4],[6e4,1.95e-4],[1e5,1.8e-4],[2e6,1.75e-4]],
  [[100,8e-7],[180,1e-5],[260,8e-7],[350,3e-5],[440,8e-7],[540,6e-5],[640,2e-6],[740,8e-5],[840,8e-7],[950,1e-4],[1060,1e-5],[1180,1.2e-4],[1300,8e-7],[1430,1.4e-4],[1570,3e-5],[1720,1.6e-4],[1880,6e-5],[2050,1.8e-4],[2250,9e-5],[2500,1.8e-4],[2800,1.2e-4],[3200,2e-4],[3800,1.4e-4],[4500,1.9e-4],[6000,1.6e-4],[9000,1.8e-4],[1.5e4,1.6e-4],[3e4,1.7e-4],[8e4,1.6e-4],[2e6,1.59e-4]]
];

// ---------- slowest trajectories of each run ----------
const panelTL = [
  [[100,8e-7],[200,5e-6],[300,8e-7],[420,2e-5],[540,8e-7],[680,5e-5],[800,8e-7],[950,6e-5],[1100,2e-6],[1250,8e-5],[1400,8e-7],[1600,1e-4],[1800,1e-5],[2000,1.2e-4],[2300,3e-5],[2600,1.3e-4],[3000,6e-5],[3500,1.5e-4],[4000,1.1e-4],[5000,1.8e-4],[6500,1.4e-4],[8000,1.7e-4],[1e4,1.5e-4],[1.3e4,1.3e-4],[1.7e4,1.35e-4],[2.2e4,1.2e-4],[3e4,1.1e-4],[4e4,1.15e-4],[6e4,1.1e-4],[1e5,1.2e-4],[2e5,1.15e-4],[5e5,1.17e-4],[2e6,1.16e-4]],
  [[100,8e-7],[300,3e-6],[500,8e-7],[700,2e-5],[850,8e-7],[1000,4e-5],[1150,2e-6],[1300,6e-5],[1450,8e-7],[1650,7e-5],[1850,5e-6],[2100,9e-5],[2350,8e-7],[2650,1e-4],[2950,2e-5],[3300,1.2e-4],[3700,8e-7],[4100,1.1e-4],[4600,3e-5],[5100,1.3e-4],[5700,5e-5],[6500,1.3e-4],[7500,8e-5],[9000,1.4e-4],[1.1e4,1.1e-4],[1.4e4,1.3e-4],[2e4,1.1e-4],[3e4,1.05e-4],[4.5e4,9.5e-5],[7e4,9e-5],[1.5e5,9.2e-5],[4e5,8.9e-5],[2e6,9.0e-5]],
  [[100,8e-7],[500,1e-6],[900,8e-7],[1300,1e-5],[1700,8e-7],[2100,3e-5],[2500,8e-7],[2900,5e-5],[3300,2e-6],[3700,6e-5],[4100,8e-7],[4500,5e-5],[4900,3e-6],[5300,7e-5],[5700,8e-7],[6100,4e-5],[6500,2e-6],[6900,6e-5],[7300,8e-7],[7800,3e-5],[8300,1e-6],[8800,5e-5],[9300,8e-7],[9800,2e-5],[1.04e4,8e-7],[1.1e4,4e-5],[1.17e4,2e-6],[1.25e4,3e-5],[1.33e4,8e-7],[1.42e4,2e-5],[1.5e4,4e-5],[1.65e4,6e-5],[1.9e4,6.5e-5],[2.2e4,5e-5],[2.6e4,3e-5],[3e4,2.2e-5],[3.5e4,4e-5],[4.2e4,5e-5],[5e4,3.5e-5],[6e4,5e-5],[8e4,6.5e-5],[1.1e5,7e-5],[1.5e5,6e-5],[2.5e5,6e-5],[5e5,6.3e-5],[2e6,6.2e-5]],
  [[100,8e-7],[700,8e-7],[1500,5e-6],[3000,2e-5],[6000,8e-7],[9000,3e-5],[1.2e4,8e-7],[1.45e4,3e-5],[1.7e4,7e-5],[2e4,9e-5],[2.5e4,8e-5],[3e4,9e-5],[4e4,7e-5],[5.5e4,5.5e-5],[7e4,6e-5],[9e4,5e-5],[1.2e5,5.5e-5],[1.6e5,4.3e-5],[2.2e5,4e-5],[3e5,3.5e-5],[4e5,3e-5],[5e5,3.3e-5],[7e5,3.1e-5],[1e6,3.3e-5],[1.4e6,3.1e-5],[2e6,3.2e-5]],
  [[100,1e-4],[130,8e-7],[170,1.5e-4],[215,2e-6],[265,2e-4],[320,8e-7],[380,3e-4],[450,2e-5],[530,3e-4],[620,8e-7],[720,4e-4],[830,6e-5],[950,4e-4],[1100,2e-4],[1300,5e-4],[1600,4e-4],[2000,5.5e-4],[3000,5e-4],[4500,6e-4],[7000,5.5e-4],[1e4,6.5e-4],[1.5e4,6e-4],[2.5e4,5e-4],[2e6,7.6e-6]],
  [[100,8e-7],[1000,8e-7],[2000,1e-5],[4000,8e-7],[7000,2e-5],[1e4,8e-7],[1.25e4,3e-5],[1.4e4,8e-7],[1.5e4,3e-5],[1.6e4,5e-5],[1.8e4,6e-5],[2e4,5e-5],[2.3e4,6e-5],[2.6e4,3.5e-5],[2.9e4,2e-5],[3.3e4,3e-5],[3.8e4,2.5e-5],[4.5e4,3.5e-5],[5.5e4,3e-5],[6.5e4,2.3e-5],[8e4,2.8e-5],[1e5,2.4e-5],[1.3e5,2.6e-5],[1.7e5,1.8e-5],[2.2e5,2e-5],[2.8e5,1.8e-5],[3.5e5,2e-5],[4.3e5,1.7e-5],[5e5,2.2e-5],[5.6e5,2.6e-5],[6.2e5,1.6e-5],[7e5,1.2e-5],[8e5,1.25e-5],[9e5,1e-5],[1.05e6,9e-6],[1.2e6,7e-6],[1.35e6,6.5e-6],[1.5e6,5e-6],[1.7e6,4.5e-6],[1.85e6,4.2e-6],[2e6,3.7e-6]]
];

const panelTR = [
  [[100,8e-7],[250,3e-6],[400,8e-7],[550,2e-5],[700,8e-7],[850,5e-5],[1000,3e-6],[1150,7e-5],[1300,8e-7],[1500,9e-5],[1700,1e-5],[1950,1.1e-4],[2200,4e-5],[2500,1.3e-4],[2900,8e-5],[3400,1.6e-4],[4000,1.2e-4],[5000,1.7e-4],[6500,1.4e-4],[8500,1.8e-4],[1.1e4,1.5e-4],[1.5e4,1.6e-4],[2e4,1.35e-4],[3e4,1.25e-4],[4.5e4,1.2e-4],[7e4,1.1e-4],[1.2e5,1.12e-4],[3e5,1.1e-4],[2e6,1.1e-4]],
  [[100,8e-7],[600,8e-7],[800,1e-5],[950,8e-7],[1100,3e-5],[1250,8e-7],[1400,5e-5],[1600,3e-6],[1800,7e-5],[2050,8e-7],[2300,8e-5],[2600,1e-5],[2950,1e-4],[3350,3e-5],[3800,1.2e-4],[4300,6e-5],[5000,1.4e-4],[6000,9e-5],[7500,1.5e-4],[9500,1.2e-4],[1.2e4,1.4e-4],[1.6e4,1.1e-4],[2.2e4,1.2e-4],[3e4,1e-4],[4.5e4,9.5e-5],[7e4,9e-5],[1.2e5,8.7e-5],[3e5,8.5e-5],[2e6,8.6e-5]],
  [[100,8e-7],[700,8e-7],[1000,5e-6],[1150,8e-7],[1300,3e-5],[1450,8e-7],[1600,5e-5],[1750,2e-6],[1900,6e-5],[2050,8e-7],[2250,7e-5],[2450,4e-6],[2650,8e-5],[2850,8e-7],[3100,9e-5],[3350,1e-5],[3600,1e-4],[3900,8e-7],[4200,9e-5],[4550,3e-5],[4900,1.1e-4],[5300,8e-7],[5700,1e-4],[6200,4e-5],[6700,1.2e-4],[7300,1e-5],[8000,1.1e-4],[8800,7e-5],[1e4,1.2e-4],[1.2e4,9e-5],[1.5e4,1.1e-4],[2e4,9e-5],[2.8e4,8e-5],[4e4,7e-5],[6e4,6e-5],[1e5,5.5e-5],[1.6e5,5e-5],[2.5e5,4.8e-5],[3.5e5,5.3e-5],[5e5,5.6e-5],[8e5,5.8e-5],[1.2e6,6e-5],[2e6,6.2e-5]],
  [[100,8e-7],[900,8e-7],[1400,1e-5],[1900,8e-7],[2500,3e-5],[3200,8e-7],[4000,4e-5],[5000,8e-6],[6000,7e-5],[7500,5e-5],[9000,1.2e-4],[1.1e4,9e-5],[1.4e4,1e-4],[1.8e4,8e-5],[2.3e4,9e-5],[3e4,7e-5],[4e4,6.5e-5],[5.5e4,6e-5],[7e4,5e-5],[1e5,5e-5],[1.4e5,4.5e-5],[2e5,4e-5],[3e5,3.8e-5],[5e5,3.7e-5],[8e5,3.6e-5],[1.2e6,3.5e-5],[2e6,3.5e-5]],
  [[100,2e-4],[125,8e-7],[160,2e-4],[200,3e-6],[245,3e-4],[300,8e-7],[360,3e-4],[430,3e-5],[510,4e-4],[600,8e-7],[700,4e-4],[820,1e-4],[950,5e-4],[1150,3e-4],[1400,5.5e-4],[1800,4.5e-4],[2500,6e-4],[3500,5.5e-4],[5000,6.5e-4],[7500,6e-4],[1.2e4,6.2e-4],[2e6,7.5e-6]],
  [[100,8e-7],[1500,8e-7],[2500,2e-5],[3500,8e-7],[5000,4e-5],[6500,8e-7],[8000,6e-5],[9000,2e-5],[1e4,8e-5],[1.15e4,5e-5],[1.3e4,3.8e-5],[1.5e4,5.5e-5],[1.8e4,7.2e-5],[2.1e4,5.5e-5],[2.5e4,5e-5],[3.2e4,3.9e-5],[3.8e4,3e-5],[4.5e4,2.5e-5],[5.2e4,2e-5],[5.6e4,1.5e-5],[6.2e4,2.2e-5],[7e4,2.8e-5],[8.1e4,3.2e-5],[1e5,3e-5],[1.3e5,3.3e-5],[1.74e5,3.2e-5],[2.1e5,2.4e-5],[2.6e5,1.9e-5],[3.2e5,1.6e-5],[4e5,1.4e-5],[5.2e5,1.1e-5],[6.5e5,9e-6],[8.7e5,7.4e-6],[1.1e6,6e-6],[1.4e6,4.8e-6],[1.8e6,3.4e-6],[2e6,3.2e-6]]
];

const panelBL = [
  [[100,8e-7],[300,3e-6],[450,8e-7],[600,3e-5],[750,8e-7],[900,6e-5],[1050,5e-6],[1200,8e-5],[1400,2e-6],[1600,1e-4],[1850,2e-5],[2100,1.2e-4],[2400,5e-5],[2800,1.4e-4],[3300,9e-5],[4000,1.6e-4],[5000,1.2e-4],[6500,1.5e-4],[8500,1.3e-4],[1.1e4,1.45e-4],[1.5e4,1.2e-4],[2e4,1.3e-4],[3e4,1.15e-4],[4.5e4,1.05e-4],[7e4,1e-4],[1.2e5,9.5e-5],[3e5,9.6e-5],[2e6,9.5e-5]],
  [[100,8e-7],[500,8e-7],[700,1e-5],[850,8e-7],[1000,4e-5],[1150,2e-6],[1300,6e-5],[1500,8e-7],[1700,7e-5],[1950,8e-6],[2200,9e-5],[2500,2e-5],[2800,1.1e-4],[3000,6e-6],[3300,9e-5],[3800,5e-5],[4300,1.1e-4],[4900,7.6e-5],[5800,4e-5],[6700,2.9e-5],[7500,5e-5],[8100,5e-5],[9200,4e-5],[1.04e4,3.3e-5],[1.2e4,5e-5],[1.34e4,7.6e-5],[1.6e4,9e-5],[2e4,1e-4],[2.6e4,8.5e-5],[3.3e4,9e-5],[4.3e4,7.5e-5],[5.5e4,8e-5],[7e4,7e-5],[1e5,7.2e-5],[1.5e5,6.5e-5],[2.5e5,7e-5],[5e5,6.8e-5],[2e6,6.9e-5]],
  [[100,8e-7],[800,8e-7],[1100,2e-5],[1400,8e-7],[1700,4e-5],[2000,3e-6],[2400,6e-5],[2800,2e-5],[3300,8e-5],[3900,4e-5],[4600,1e-4],[5500,7e-5],[6500,1.1e-4],[8000,8e-5],[1e4,1e-4],[1.3e4,9e-5],[1.7e4,1e-4],[2.2e4,8e-5],[3e4,7e-5],[4e4,6.5e-5],[5.5e4,5.5e-5],[7.5e4,5e-5],[1e5,4.5e-5],[1.4e5,4e-5],[2e5,3.6e-5],[3e5,3.2e-5],[4e5,2.9e-5],[5.5e5,2.6e-5],[7e5,2.7e-5],[9e5,2.6e-5],[1.2e6,2.8e-5],[1.5e6,2.7e-5],[2e6,3.0e-5]],
  [[100,1.5e-4],[128,8e-7],[165,2e-4],[208,4e-6],[258,2.5e-4],[315,8e-7],[378,3e-4],[450,3e-5],[530,3.5e-4],[625,8e-7],[730,4e-4],[850,8e-5],[1000,4.5e-4],[1250,3e-4],[1600,5e-4],[2200,4.5e-4],[3200,5.5e-4],[5000,5e-4],[8000,6e-4],[1.5e4,6e-4],[2e6,8.9e-6]],
  [[100,8e-7],[900,8e-7],[1300,1e-5],[1700,8e-7],[2200,3e-5],[2600,1e-5],[3000,5.9e-6],[3400,4e-5],[3900,7e-5],[4400,5e-5],[4900,7.6e-5],[5800,4.5e-5],[6700,2.9e-5],[7500,4e-5],[8100,5e-5],[9200,3.5e-5],[1.04e4,3.3e-5],[1.2e4,6e-5],[1.4e4,8e-5],[1.6e4,9.3e-5],[1.9e4,7e-5],[2.2e4,6e-5],[2.6e4,6.5e-5],[3e4,5e-5],[3.6e4,5.5e-5],[4.3e4,4.5e-5],[5.2e4,5e-5],[6.3e4,4e-5],[7.5e4,3.8e-5],[8.8e4,4e-5],[1e5,3.6e-5],[1.2e5,4e-5],[1.5e5,3.4e-5],[1.8e5,3.2e-5],[2.2e5,3.5e-5],[2.9e5,3.3e-5],[3.5e5,2.6e-5],[4.3e5,2.2e-5],[5.5e5,1.7e-5],[6.5e5,1.3e-5],[8e5,9.3e-6],[9e5,1.1e-5],[1.05e6,8.5e-6],[1.25e6,7.5e-6],[1.5e6,6.5e-6],[1.75e6,5.5e-6],[2e6,5.2e-6]]
];

const panelBR = [
  [[100,8e-7],[400,5e-6],[600,8e-7],[800,4e-5],[1000,2e-6],[1200,7e-5],[1400,8e-7],[1650,9e-5],[1900,1e-5],[2200,1.1e-4],[2550,3e-5],[2950,1.3e-4],[3400,7e-5],[4000,1.5e-4],[4800,1.1e-4],[6000,1.6e-4],[7500,1.3e-4],[1e4,1.5e-4],[1.3e4,1.2e-4],[1.8e4,1.3e-4],[2.5e4,1.1e-4],[3.5e4,1e-4],[5e4,9.5e-5],[8e4,9e-5],[1.5e5,8.8e-5],[4e5,9e-5],[2e6,8.9e-5]],
  [[100,8e-7],[700,8e-7],[1000,3e-5],[1200,8e-7],[1450,5e-5],[1700,4e-6],[2000,7e-5],[2300,8e-7],[2650,8e-5],[3000,1e-5],[3400,1e-4],[3900,8e-7],[4400,9e-5],[5000,2e-5],[5600,1.1e-4],[6300,5e-6],[7000,1e-4],[7800,4e-5],[8700,1.2e-4],[1e4,8e-5],[1.2e4,1.1e-4],[1.5e4,9e-5],[2e4,1e-4],[2.8e4,8.5e-5],[4e4,8e-5],[6e4,7e-5],[9e4,6.2e-5],[1.4e5,6e-5],[2.2e5,6.3e-5],[4e5,6.2e-5],[8e5,6.6e-5],[2e6,6.5e-5]],
  [[100,8e-7],[1200,8e-7],[1500,2e-5],[1750,8e-7],[2000,4e-5],[2250,3e-6],[2500,6e-5],[2750,8e-7],[3000,7e-5],[3300,2e-5],[3600,8e-5],[3900,8e-7],[4200,7e-5],[4500,6e-6],[4850,8e-5],[5200,8e-7],[5600,6e-5],[6000,1.5e-5],[6450,8e-5],[6900,8e-7],[7400,6e-5],[7900,3e-6],[8500,7e-5],[9100,8e-7],[9800,5e-5],[1.05e4,1e-5],[1.13e4,8e-5],[1.22e4,4e-5],[1.32e4,9e-5],[1.5e4,7e-5],[1.8e4,9e-5],[2.2e4,7e-5],[2.8e4,6e-5],[3.5e4,6.5e-5],[4.5e4,5e-5],[6e4,5e-5],[8e4,4e-5],[1.1e5,4.2e-5],[1.5e5,3.5e-5],[2e5,3.2e-5],[3e5,2.6e-5],[4.5e5,2.3e-5],[6.5e5,2e-5],[8e5,1.9e-5],[1e6,1.8e-5],[1.3e6,2e-5],[1.6e6,2.2e-5],[2e6,2.5e-5]],
  [[100,2e-4],[122,8e-7],[155,1.5e-4],[195,2e-6],[240,2.5e-4],[295,8e-7],[355,3e-4],[425,2e-5],[505,3.5e-4],[595,8e-7],[700,4e-4],[820,6e-5],[960,4.5e-4],[1150,2.5e-4],[1450,5e-4],[2000,4.5e-4],[3000,6e-4],[5000,5.5e-4],[8000,6.5e-4],[1.3e4,6.8e-4],[2e6,8.1e-6]],
  [[100,8e-7],[1500,8e-7],[2200,2e-5],[2800,8e-7],[3500,4e-5],[4200,3e-6],[5000,6e-5],[5800,8e-7],[6700,7e-5],[7700,1e-5],[8800,8e-5],[1e4,5e-5],[1.1e4,6e-5],[1.2e4,2e-5],[1.35e4,6e-5],[1.5e4,4.3e-6],[1.6e4,7e-5],[1.75e4,1e-4],[1.95e4,7e-5],[2.2e4,4.5e-5],[2.6e4,5e-5],[3e4,2.5e-5],[3.3e4,4e-6],[3.6e4,3e-5],[4.4e4,3.3e-5],[5.5e4,4e-5],[6.5e4,3e-5],[8.1e4,2.6e-5],[1e5,3e-5],[1.2e5,2.2e-5],[1.5e5,1.7e-5],[1.8e5,2e-5],[2.2e5,1.5e-5],[2.8e5,1.6e-5],[3.5e5,1.2e-5],[4.3e5,1.1e-5],[5.3e5,9.3e-6],[6e5,7e-6],[6.8e5,3.5e-6],[7.5e5,5.5e-6],[8.5e5,6.5e-6],[1e6,6.8e-6],[1.2e6,5.8e-6],[1.4e6,5.2e-6],[1.6e6,4.6e-6],[1.8e6,3.8e-6],[2e6,3.6e-6]]
];

// ---------- line colours ----------
const oliveColors = ['#8c8a3c', '#7a8c34'];
const upperColors = ['#868c3e', '#6e8e2a', '#55882c', '#3a8030', '#2a7a32', '#1f7238', '#1b6a42', '#1b5f4e',
  '#1c545c', '#1e4868', '#1f3e74', '#21377a', '#253178', '#2c2c70', '#392866', '#4a225a', '#5e1c4a', '#761636',
  '#8c1020', '#990c12'];
const tealColors = ['#1a9a8e', '#22a89c', '#3a9890', '#5a8884', '#6e6a72'];
const pinkColors = ['#7e3554', '#863352', '#8e3b5d', '#994567', '#a34f71', '#ad5a7b', '#b66685', '#bc738b',
  '#c3828a', '#c9917a', '#d09c64'];
const yellowBandColors = ['#d9a450', '#dfac40', '#e4b432', '#e7bc28', '#e6c122', '#dcc126', '#c8be2f', '#b3ba39', '#9eb645'];
const sageColors = ['#80ac6c', '#849f80', '#94967f', '#8a9274', '#5e9446'];
const mauveColors = ['#7a3a58', '#82304f', '#8a3658', '#944062', '#9e4a6c', '#a85476', '#b25f80', '#ba6c8a',
  '#c07a8c', '#c68a82', '#cc9870'];
const yellowColors = ['#d6a058', '#dca848', '#e2b038', '#e6b82c', '#e8c024', '#e4c220', '#d2c02a', '#bebc34',
  '#a8b83e', '#94b44c'];
const greenColors = ['#84b062', '#7aa878', '#8c9c84', '#9a9080', '#78984e', '#3d8a3a', '#2e8236', '#237a38',
  '#1c733c', '#1a6c40', '#196744', '#1a6248', '#1b5d4e', '#1b5852', '#1c5456', '#1c505a', '#1d4c5e', '#1d4a62',
  '#1d4866', '#1d466a', '#1c446c'];
const slowColors4 = ['#1d4a66', '#1c476b', '#1a456e', '#1a4470', '#1a4471', '#17416e'];
const slowColors3 = ['#1d4a66', '#1c476b', '#1a456e', '#1a4471', '#17416e'];

const SERIF = "'Liberation Serif', 'DejaVu Serif', serif";

function onGrid(values) { return values.map((v, i) => [tBand[i], v]); }

function lineDataset(points, color) {
  return {
    data: points.map(p => ({ x: p[0], y: p[1] })),
    borderColor: color,
    borderWidth: 1.5,
    borderJoinStyle: 'round',
    pointRadius: 0,
    pointHoverRadius: 0,
    fill: false,
    tension: 0
  };
}

function buildDatasets(slowLines) {
  const items = [];
  const slowCols = slowLines.length === 6 ? slowColors4 : slowColors3;
  slowLines.forEach((l, i) => items.push([l, slowCols[i]]));
  greenLines.forEach((l, i) => items.push([l, greenColors[i]]));
  yellowLines.forEach((l, i) => items.push([l, yellowColors[i]]));
  mauveLines.forEach((l, i) => items.push([l, mauveColors[i]]));
  sageBand.forEach((l, i) => items.push([onGrid(l), sageColors[i]]));
  yellowBand.forEach((l, i) => items.push([onGrid(l), yellowBandColors[i]]));
  pinkBand.forEach((l, i) => items.push([onGrid(l), pinkColors[i]]));
  tealBand.forEach((l, i) => items.push([onGrid(l), tealColors[i]]));
  upperBand.forEach((l, i) => items.push([onGrid(l), upperColors[i]]));
  oliveLines.forEach((l, i) => items.push([onGrid(l), oliveColors[i]]));
  // trajectories that settle higher are painted over the ones that settle lower
  items.sort((a, b) => b[0][b[0].length - 1][1] - a[0][a[0].length - 1][1]);
  return items.map(it => lineDataset(it[0], it[1]));
}

function drawPower(ctx, exp, x, y, align) {
  const sup = (exp < 0 ? '\u2212' : '') + Math.abs(exp);
  ctx.font = '18px ' + SERIF;
  const wb = ctx.measureText('10').width;
  ctx.font = '13px ' + SERIF;
  const ws = ctx.measureText(sup).width;
  const total = wb + 1 + ws;
  const x0 = align === 'right' ? x - total : x - total / 2;
  ctx.textAlign = 'left';
  ctx.textBaseline = 'alphabetic';
  ctx.font = '18px ' + SERIF;
  ctx.fillText('10', x0, y + 6);
  ctx.font = '13px ' + SERIF;
  ctx.fillText(sup, x0 + wb + 1, y - 2);
}

function drawYTitle(ctx, cx, cy) {
  const parts = [
    ['\u039B', '', 23, 0], ['(', '', 23, 0], ['z', 'italic ', 23, 0], ['0', '', 16, 5],
    [';', '', 23, 0], ['\u2009', '', 23, 0], ['t', 'italic ', 23, 0], [')', '', 23, 0]
  ];
  ctx.save();
  ctx.translate(cx, cy);
  ctx.rotate(-Math.PI / 2);
  let total = 0;
  const widths = parts.map(p => { ctx.font = p[1] + p[2] + 'px ' + SERIF; const w = ctx.measureText(p[0]).width; total += w; return w; });
  let x = -total / 2;
  ctx.textAlign = 'left';
  ctx.textBaseline = 'alphabetic';
  parts.forEach((p, i) => {
    ctx.font = p[1] + p[2] + 'px ' + SERIF;
    ctx.fillText(p[0], x, 7 + p[3]);
    x += widths[i];
  });
  ctx.restore();
}

const axisDecor = {
  id: 'axisDecor',
  afterDraw(chart) {
    const o = chart.options.plugins.axisDecor;
    const ctx = chart.ctx, a = chart.chartArea;
    const xs = chart.scales.x, ys = chart.scales.y;
    ctx.save();
    ctx.fillStyle = '#000';
    ctx.strokeStyle = '#000';
    ctx.lineWidth = 1;
    ctx.beginPath(); ctx.moveTo(a.left + 0.5, a.top); ctx.lineTo(a.left + 0.5, a.bottom); ctx.stroke();
    ctx.lineWidth = 1.5;
    ctx.beginPath(); ctx.moveTo(a.left, a.bottom - 0.25); ctx.lineTo(a.right, a.bottom - 0.25); ctx.stroke();
    ctx.lineWidth = 1;
    const yTop = yDecades[yDecades.length - 1];
    yDecades.forEach(e => {
      for (let m = 1; m <= 9; m++) {
        if (e === yTop && m > 1) break;
        const py = Math.round(ys.getPixelForValue(m * Math.pow(10, e))) + 0.5;
        const len = m === 1 ? 5 : 3;
        ctx.beginPath(); ctx.moveTo(a.left, py); ctx.lineTo(a.left + len, py); ctx.stroke();
      }
      if (o.yLabels) drawPower(ctx, e, a.left - 14, ys.getPixelForValue(Math.pow(10, e)), 'right');
    });
    xDecades.forEach(e => {
      for (let m = 1; m <= 9; m++) {
        const v = m * Math.pow(10, e);
        if (v > tMax) break;
        const px = Math.round(xs.getPixelForValue(v)) + 0.5;
        const len = m === 1 ? 5 : 3;
        ctx.beginPath(); ctx.moveTo(px, a.bottom); ctx.lineTo(px, a.bottom - len); ctx.stroke();
      }
      if (o.xLabels) {
        const px = xs.getPixelForValue(Math.pow(10, e));
        ctx.font = '18px ' + SERIF;
        const wb = ctx.measureText('10').width;
        ctx.font = '13px ' + SERIF;
        const ws = ctx.measureText(String(e)).width;
        const x0 = px - (wb + 1 + ws) / 2;
        ctx.textAlign = 'left';
        ctx.textBaseline = 'alphabetic';
        ctx.font = '18px ' + SERIF;
        ctx.fillText('10', x0, a.bottom + 27);
        ctx.font = '13px ' + SERIF;
        ctx.fillText(String(e), x0 + wb + 1, a.bottom + 19);
      }
    });
    if (o.yTitle) drawYTitle(ctx, 20, (a.top + a.bottom) / 2);
    if (o.xTitle) {
      ctx.font = 'italic 23px ' + SERIF;
      ctx.textAlign = 'center';
      ctx.textBaseline = 'alphabetic';
      ctx.fillText('t', (a.left + a.right) / 2, a.bottom + 57);
    }
    ctx.restore();
  }
};

const panels = [
  { id: 'c0', lines: panelTL, yAxisW: 100, xAxisH: 16, padR: 11, left: true, bottom: false },
  { id: 'c1', lines: panelTR, yAxisW: 27, xAxisH: 16, padR: 4, left: false, bottom: false },
  { id: 'c2', lines: panelBL, yAxisW: 100, xAxisH: 61, padR: 11, left: true, bottom: true },
  { id: 'c3', lines: panelBR, yAxisW: 27, xAxisH: 61, padR: 4, left: false, bottom: true }
];

panels.forEach(p => {
  new Chart(document.getElementById(p.id), {
    type: 'line',
    data: { datasets: buildDatasets(p.lines) },
    options: {
      responsive: false,
      maintainAspectRatio: false,
      animation: false,
      events: [],
      layout: { padding: { left: 0, right: p.padR, top: 16, bottom: 0 } },
      scales: {
        x: {
          type: 'logarithmic', min: tMin, max: tMax,
          grid: { display: false, drawTicks: false }, border: { display: false },
          ticks: { display: false }, title: { display: false },
          afterFit: s => { s.height = p.xAxisH; }
        },
        y: {
          type: 'logarithmic', min: 1e-6, max: 1e-1,
          grid: { display: false, drawTicks: false }, border: { display: false },
          ticks: { display: false }, title: { display: false },
          afterFit: s => { s.width = p.yAxisW; }
        }
      },
      plugins: {
        legend: { display: false },
        tooltip: { enabled: false },
        axisDecor: { yLabels: p.left, xLabels: p.bottom, yTitle: p.left, xTitle: p.bottom }
      }
    },
    plugins: [axisDecor]
  });
});
</script>
</body>
</html>
